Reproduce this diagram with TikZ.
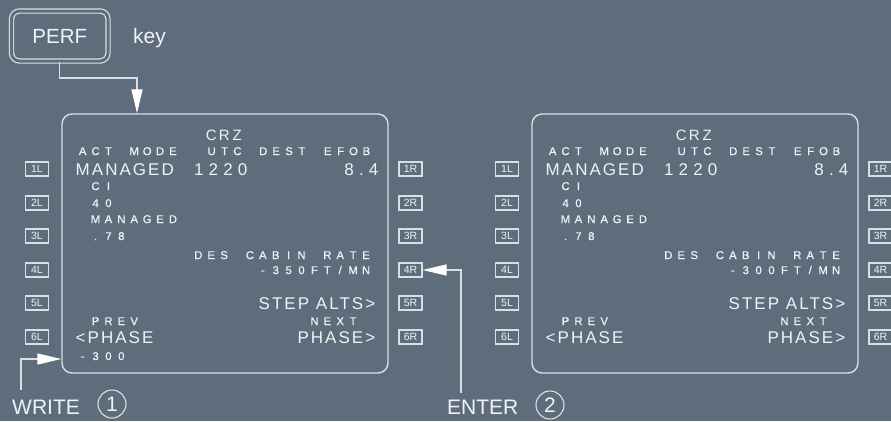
\documentclass[tikz,border=0pt]{standalone}
\usepackage{fontspec}
\setmainfont{Liberation Sans}
\newfontfamily\bigf[LetterSpace=12]{Liberation Sans}
\newfontfamily\digf[LetterSpace=30]{Liberation Sans}
\newfontfamily\smf[FakeBold=0.6]{Liberation Sans}
\usetikzlibrary{arrows.meta}
\definecolor{bgc}{RGB}{94,109,123}
\definecolor{ln}{RGB}{218,223,228}
\definecolor{tx}{RGB}{240,242,244}
\newlength\cellw \setlength\cellw{12.9pt}
\def\mono#1{\monoA#1\relax}
\def\monoA#1{\ifx#1\relax\else\makebox[\cellw][c]{#1}\expandafter\monoA\fi}
\tikzset{
  sm/.style={inner sep=0pt, text=tx, text height=8.1pt, text depth=0pt, font=\smf\fontsize{11.3}{13}\selectfont},
  bigt/.style={inner sep=0pt, text=tx, text height=12.2pt, text depth=0pt, font=\bigf\fontsize{17}{20}\selectfont},
  digt/.style={inner sep=0pt, text=tx, text height=12.2pt, text depth=0pt, font=\digf\fontsize{17}{20}\selectfont},
  crzt/.style={inner sep=0pt, text=tx, text height=10.5pt, text depth=0pt, font=\fontsize{15}{17}\selectfont},
  lsk/.style={draw=ln, line width=1.1pt, minimum width=23pt, minimum height=14pt, inner sep=0pt, text=tx, font=\fontsize{10.5}{11}\selectfont},
  screen/.style={draw=ln, line width=1.4pt, rounded corners=10pt, minimum width=326pt, minimum height=259pt, inner sep=0pt},
  conn/.style={draw=ln, line width=1.3pt, -{Triangle[length=24pt,width=11pt,color=white]}},
  label/.style={inner sep=0pt, text=tx, text height=15pt, text depth=0pt, font=\fontsize{21}{24}\selectfont},
  num/.style={circle, draw=ln, line width=1.1pt, minimum size=28pt, inner sep=0pt, text=tx, font=\fontsize{21}{24}\selectfont},
}
\newcommand\cdu[3]{%
\begin{scope}[xshift=#2]
  \node[screen] (#1Scr) at (225,243.5) {};
  \foreach \i/\yy in {1/169,2/203,3/236,4/270,5/303,6/337}{
    \node[lsk] (#1L\i) at (37,\yy) {\i L};
    \node[lsk] (#1R\i) at (410.5,\yy) {\i R};
  }
  \node[crzt] (#1crz) at (224.3,135) {\mono{CRZ}};
  \node[sm, anchor=west] (#1hdr) at (76,151) {\mono{ACT~MODE~~UTC~DEST~EFOB}};
  \node[bigt, anchor=west] (#1mode) at (75.5,169) {MANAGED};
  \node[digt, anchor=west] (#1utc) at (194,169) {1220};
  \node[digt, anchor=east] (#1efob) at (378.5,169) {8.4};
  \node[sm, anchor=west] (#1ci) at (76,186) {\mono{~CI}};
  \node[sm, anchor=west] (#1civ) at (76,203) {\mono{~40}};
  \node[sm, anchor=west] (#1mach) at (76,219) {\mono{~MANAGED}};
  \node[sm, anchor=west] (#1machv) at (76,236) {\mono{~.78}};
  \node[sm, anchor=east] (#1des) at (372.7,255) {\mono{DES~CABIN~RATE}};
  \node[sm, anchor=east] (#1rate) at (372.7,270) {\mono{#3}};
  \node[bigt, anchor=east] (#1step) at (375.5,303) {STEP ALTS>};
  \node[sm, anchor=west] (#1prev) at (76,321) {\mono{~PREV}};
  \node[sm, anchor=east] (#1next) at (372.7,321) {\mono{NEXT~}};
  \node[bigt, anchor=west] (#1pph) at (75.5,337) {<PHASE};
  \node[bigt, anchor=east] (#1nph) at (375.5,337) {PHASE>};
\end{scope}}
\begin{document}
\begin{tikzpicture}[x=1pt,y=-1pt]
\fill[bgc] (0,0) rectangle (891,421);
\useasboundingbox (0,0) rectangle (891,421);
% PERF key
\node[draw=ln, double=bgc, double distance=3pt, line width=1.2pt, rounded corners=8pt,
      minimum width=96.5pt, minimum height=50pt, inner sep=0pt, text=tx,
      text height=14.6pt, text depth=0pt, font=\fontsize{20.5}{24}\selectfont] (perf) at (59.75,36) {PERF};
\node[anchor=base west, inner sep=0pt, text=tx, font=\fontsize{21}{24}\selectfont] (key) at (133,43) {key};
% screens
\cdu{a}{0pt}{-350FT/MN}
\cdu{b}{470pt}{-300FT/MN}
\node[sm, anchor=west] (ascratch) at (76,356) {\mono{-300}};
% PERF arrow
\coordinate (bend) at (137,78);
\draw[conn] (perf.south) |- (bend) -- (bend |- aScr.north);
% WRITE
\node[label, anchor=west] (write) at (12,406.5) {WRITE};
\node[num] (n1) at (112,404) {1};
\coordinate (wfoot) at (21,390);
\coordinate (wrow) at (21,359);
\draw[conn] (wfoot) -- (wrow) -- (wrow -| aScr.west);
% ENTER
\node[label, anchor=west] (enter) at (447,406.5) {ENTER};
\node[num] (n2) at (550,405) {2};
\coordinate (efoot) at (461,393);
\draw[conn] (efoot) |- (aR4.east);
\end{tikzpicture}
\end{document}
